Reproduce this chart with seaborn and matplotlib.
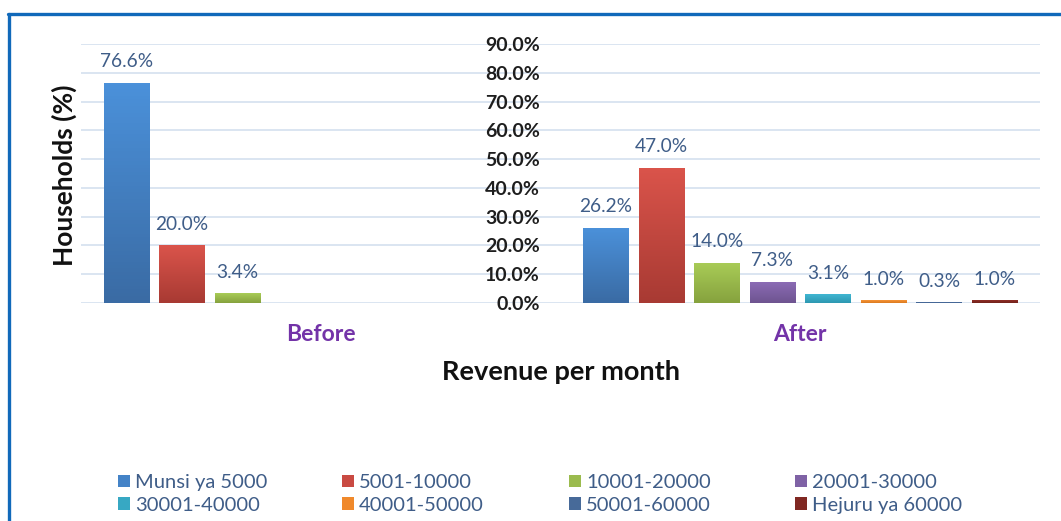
import numpy as np
import pandas as pd
import seaborn as sns
import matplotlib.pyplot as plt
from matplotlib.lines import Line2D
from matplotlib.patches import Patch
from matplotlib.colors import to_rgb

# ---------------- data ----------------
periods = ["Before", "After"]
revenue_classes = ["Munsi ya 5000", "5001-10000", "10001-20000", "20001-30000",
                   "30001-40000", "40001-50000", "50001-60000", "Hejuru ya 60000"]
before_values = [76.6, 20.0, 3.4, 0, 0, 0, 0, 0]
after_values = [26.2, 47.0, 14.0, 7.3, 3.1, 1.0, 0.3, 1.0]
y_ticks = [0, 10, 20, 30, 40, 50, 60, 70, 80, 90]

# gradient colours (top, bottom) per series
top_colors = ["#4B91DA", "#DA544B", "#A9CC57", "#8C6CB6", "#40B6D2", "#F69436", "#4F72A3", "#8E2E26"]
bottom_colors = ["#3A6BA4", "#A83A33", "#86A23E", "#6E5490", "#2E98B1", "#DB7A20", "#3D5E8C", "#72221C"]
base_colors = ["#4483C7", "#C94A42", "#9BBB4E", "#7F62A5", "#37A8C3", "#F0892B", "#476A99", "#802822"]

df = pd.DataFrame({
    "period": [p for p in periods for _ in revenue_classes],
    "revenue": revenue_classes * 2,
    "value": before_values + after_values,
})

sns.set_theme(style="white")
plt.rcParams["font.family"] = ["Lato", "DejaVu Sans"]

W, H = 1061, 521
fig = plt.figure(figsize=(W / 100, H / 100), dpi=100)
ax = fig.add_axes([81 / W, 1 - 303 / H, (1040 - 81) / W, (303 - 44) / H])

sns.barplot(data=df, x="period", y="value", hue="revenue", order=periods,
            hue_order=revenue_classes, palette=base_colors, width=0.926, gap=0.189,
            ax=ax, legend=False, zorder=3, linewidth=0)

ax.set_ylim(0, 90)
ax.set_xlim(-0.5, 1.5)

# gradient fill for bars
label_color = "#3F5D88"
for i, cont in enumerate(ax.containers):
    c_top = np.array(to_rgb(top_colors[i]))
    c_bot = np.array(to_rgb(bottom_colors[i]))
    grad = np.linspace(0, 1, 64)[:, None]
    img = (c_top[None, None, :] * (1 - grad[:, :, None]) + c_bot[None, None, :] * grad[:, :, None])
    for patch in cont.patches:
        h = patch.get_height()
        if h <= 0:
            continue
        x0 = patch.get_x()
        w = patch.get_width()
        im = ax.imshow(img, extent=[x0, x0 + w, 0, h], aspect="auto", origin="upper", zorder=4)
        im.set_clip_path(patch)
    labels = [f"{v:.1f}%" if v > 0 else "" for v in cont.datavalues]
    ax.bar_label(cont, labels=labels, padding=9, color=label_color, fontsize=13.8, zorder=5)

ax.set_ylim(0, 90)
ax.set_xlim(-0.5, 1.5)

# grid
ax.set_yticks(y_ticks)
ax.set_yticklabels([f"{t:.1f}%" for t in y_ticks])
ax.yaxis.grid(True, color="#D8E3F0", linewidth=1.3, zorder=0)
ax.xaxis.grid(False)
ax.set_axisbelow(True)
for s in ["top", "right", "bottom"]:
    ax.spines[s].set_visible(False)
ax.spines["left"].set_position(("axes", 0.4838))
ax.spines["left"].set_visible(False)
ax.tick_params(axis="y", length=0, pad=3.6, labelsize=14, labelcolor="#1E1E1E")
for t in ax.get_yticklabels():
    t.set_fontweight("bold")
ax.tick_params(axis="x", length=0, pad=15, labelsize=16.5, labelcolor="#7333A8")
for t in ax.get_xticklabels():
    t.set_fontweight("bold")

ax.set_xlabel("Revenue per month", fontsize=19.5, fontweight="bold", color="#111111", labelpad=11)
ax.set_ylabel("Households (%)", fontsize=19, fontweight="bold", color="#111111")
ax.yaxis.label.set(ha="center", va="center")
ax.yaxis.set_label_coords(-0.017, 0.494)

# legend: four columns of two rows
order_cols = [[0, 4], [1, 5], [2, 6], [3, 7]]
col_x = [118, 342, 569, 795]
for cx, idxs in zip(col_x, order_cols):
    handles = [Patch(facecolor=base_colors[k], edgecolor="none") for k in idxs]
    labs = [revenue_classes[k] for k in idxs]
    leg = fig.legend(handles, labs, loc="upper left", bbox_to_anchor=(cx / W, 1 - 474 / H),
                     frameon=False, fontsize=14.5, labelcolor="#3F5D88", handlelength=0.6,
                     handleheight=0.6, handletextpad=0.25, labelspacing=0.28,
                     borderpad=0, borderaxespad=0)

# frame border (top and left)
fig.add_artist(Line2D([8 / W, 1], [1 - 13.5 / H, 1 - 13.5 / H], color="#1169BA", lw=2.4,
                      transform=fig.transFigure))
fig.add_artist(Line2D([9 / W, 9 / W], [0, 1 - 13.5 / H], color="#1169BA", lw=2.4,
                      transform=fig.transFigure))

fig.savefig("out.png", dpi=100)
